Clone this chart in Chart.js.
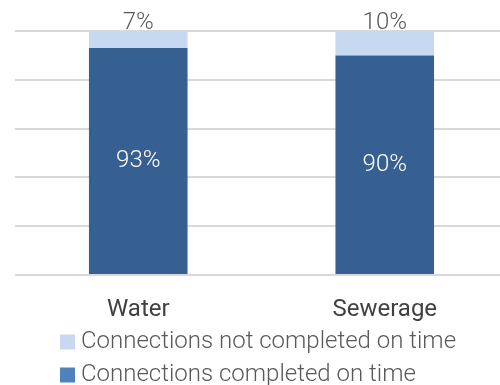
<!DOCTYPE html>
<html>
<head>
<meta charset="utf-8">
<script src="https://cdn.jsdelivr.net/npm/chart.js@4/dist/chart.umd.min.js"></script>
<style>
  html, body { margin: 0; padding: 0; background: #fff; overflow: hidden; }
  /* the plot runs slightly past the right edge of the window */
  #wrap { width: 508px; height: 385px; }
</style>
</head>
<body>
<div id="wrap"><canvas id="chart"></canvas></div>
<script>
// Share of new connections completed on time, by service
const categories = ['Water', 'Sewerage'];
const completedOnTime = [93, 90];
const notCompletedOnTime = [7, 10];
const seriesNames = ['Connections completed on time', 'Connections not completed on time'];

Chart.defaults.font.family = 'Roboto, "Open Sans", sans-serif';

// Percent labels: white inside the lower segment, grey above the upper one
const valueLabels = {
  id: 'valueLabels',
  afterDatasetsDraw(chart) {
    const ctx = chart.ctx;
    ctx.save();
    ctx.font = '300 24px Roboto, "Open Sans", sans-serif';
    ctx.textAlign = 'center';
    chart.data.datasets.forEach((ds, di) => {
      chart.getDatasetMeta(di).data.forEach((bar, i) => {
        const text = ds.data[i] + '%';
        if (ds.labelInside) {
          ctx.fillStyle = '#ffffff';
          ctx.textBaseline = 'middle';
          ctx.fillText(text, bar.x, (bar.y + bar.base) / 2);
        } else {
          ctx.fillStyle = '#595959';
          ctx.textBaseline = 'alphabetic';
          ctx.fillText(text, bar.x, bar.y - 2);
        }
      });
    });
    ctx.restore();
  }
};

// Indent the stacked legend rows so they line up under the plot
const legendInset = {
  id: 'legendInset',
  beforeDraw(chart) {
    if (chart.legend) chart.legend.left = 57;
  }
};

new Chart(document.getElementById('chart'), {
  type: 'bar',
  data: {
    labels: categories,
    datasets: [
      {
        label: seriesNames[0],
        data: completedOnTime,
        backgroundColor: '#366092',
        legendColor: '#4f81bd',
        labelInside: true,
        borderWidth: 0
      },
      {
        label: seriesNames[1],
        data: notCompletedOnTime,
        backgroundColor: '#c6d9f1',
        legendColor: '#c6d9f1',
        labelInside: false,
        borderWidth: 0
      }
    ]
  },
  options: {
    responsive: true,
    maintainAspectRatio: false,
    animation: false,
    layout: { padding: { left: 15, right: 0, top: 31, bottom: -12 } },
    datasets: { bar: { barPercentage: 0.4, categoryPercentage: 1 } },
    scales: {
      x: {
        stacked: true,
        grid: { display: false, drawTicks: false },
        border: { display: false },
        ticks: { color: '#404040', font: { size: 24, weight: 400 }, padding: 21 },
        afterFit(scale) { scale.height = 46; }
      },
      y: {
        stacked: true,
        min: 0,
        max: 100,
        grid: { color: '#d9d9d9', lineWidth: 2, drawTicks: false },
        border: { display: false },
        ticks: { display: false, stepSize: 20 }
      }
    },
    plugins: {
      tooltip: { enabled: false },
      legend: {
        position: 'bottom',
        align: 'start',
        reverse: true,
        labels: {
          color: '#595959',
          font: { size: 24, weight: 300 },
          usePointStyle: true,
          pointStyle: 'rect',
          boxWidth: 3,
          boxHeight: 15,
          padding: 9,
          generateLabels(chart) {
            return Chart.defaults.plugins.legend.labels.generateLabels(chart).map(item => {
              const ds = chart.data.datasets[item.datasetIndex];
              item.fillStyle = ds.legendColor;
              item.strokeStyle = ds.legendColor;
              item.lineWidth = 0;
              item.pointStyle = 'rect';
              return item;
            });
          }
        }
      }
    }
  },
  plugins: [valueLabels, legendInset]
});
</script>
</body>
</html>
